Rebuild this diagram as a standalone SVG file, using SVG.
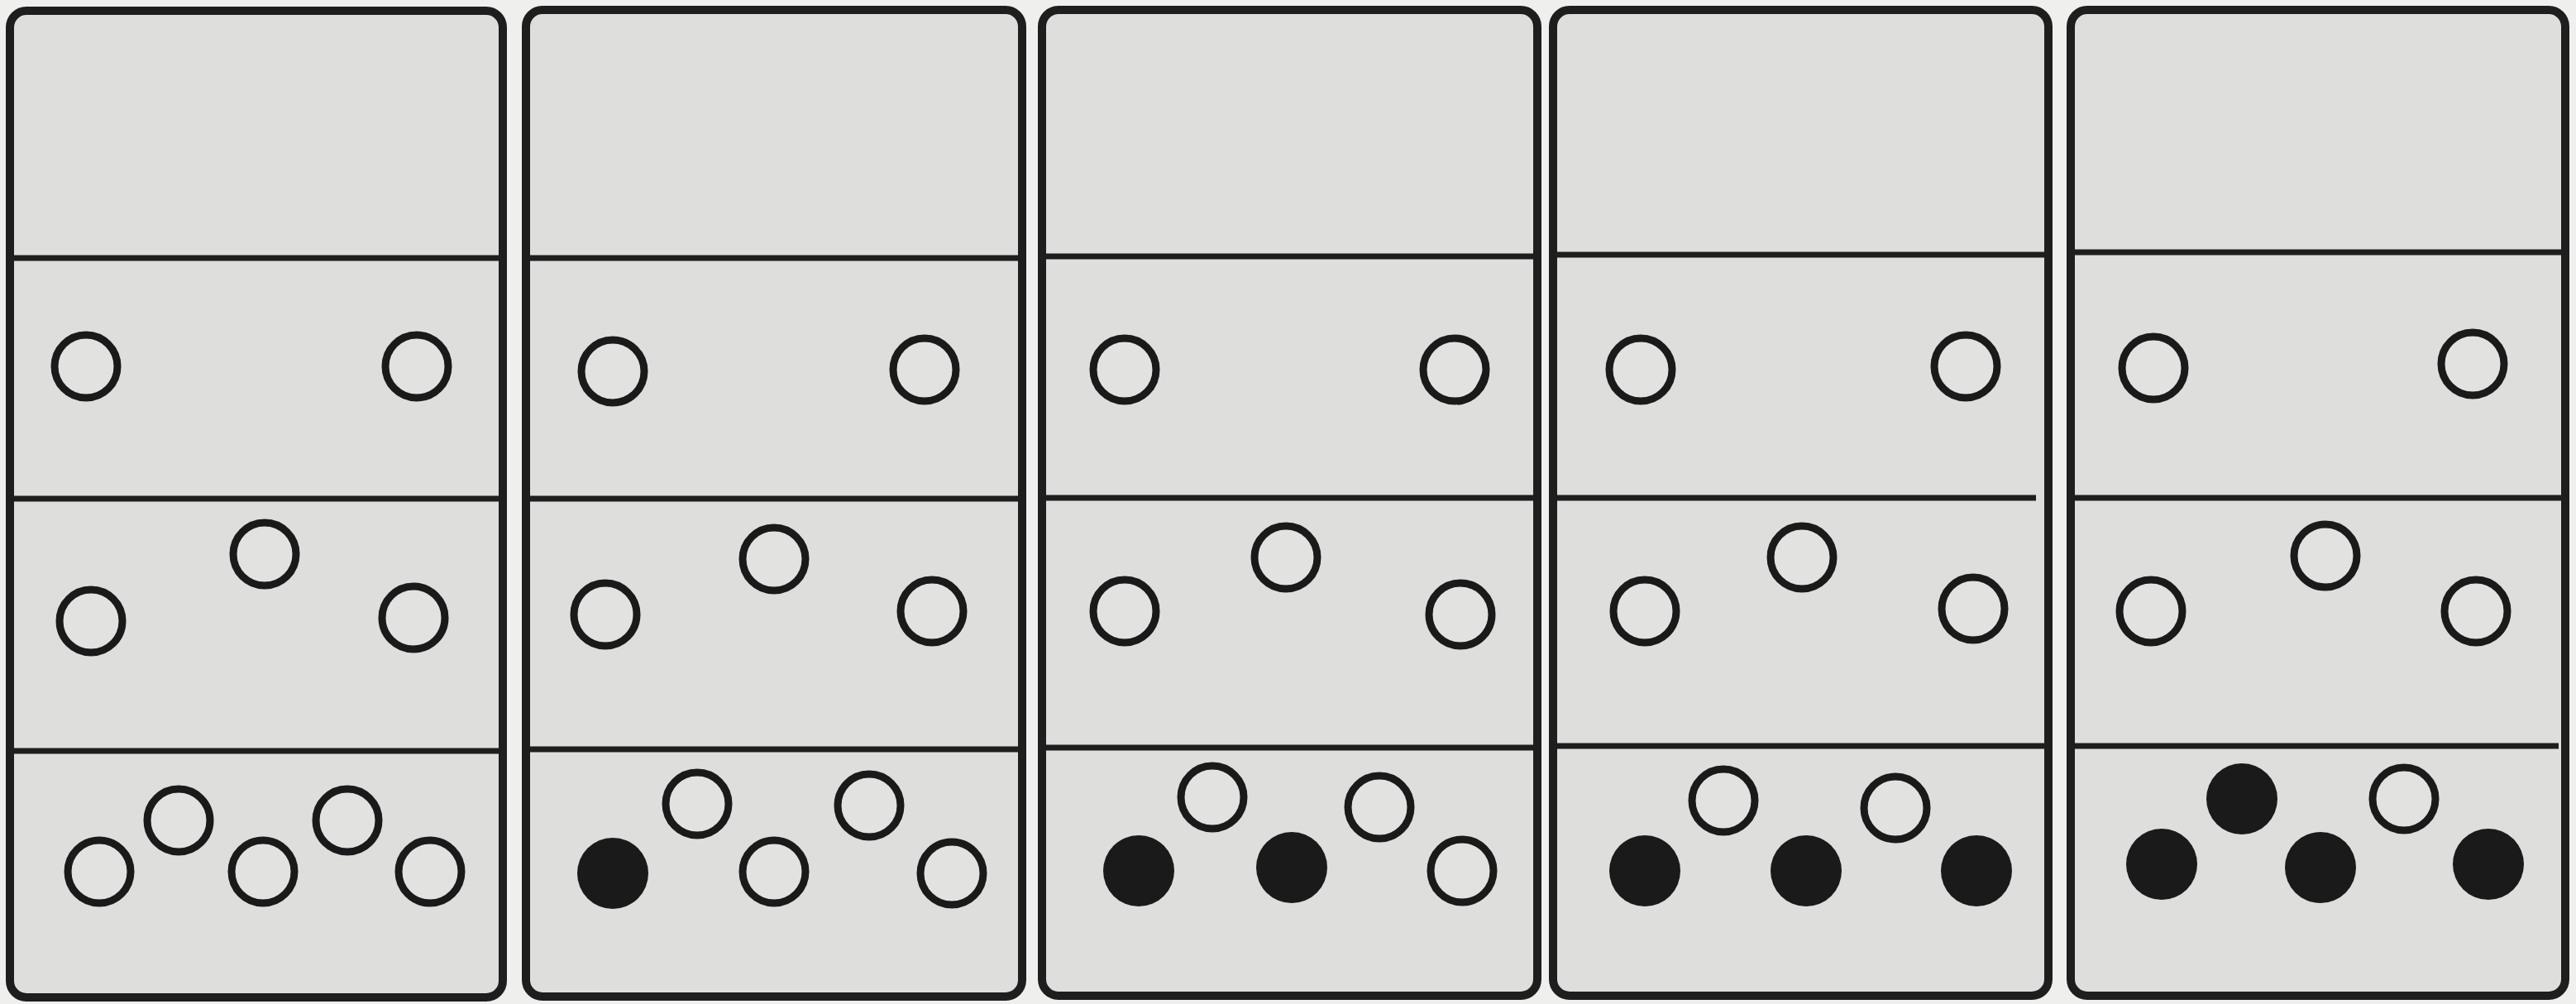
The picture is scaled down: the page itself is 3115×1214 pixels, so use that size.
<svg xmlns="http://www.w3.org/2000/svg" width="3115" height="1214" viewBox="0 0 3115 1214">
<style>
.bg{fill:#efefed}
.panel{fill:#dededc;stroke:#1e1e1e;stroke-width:10}
.div{stroke:#1e1e1e;stroke-width:7;fill:none}
.o{fill:#e2e2e0;stroke:#1a1a1a;stroke-width:9}
.f{fill:#1a1a1a}
</style>
<rect class="bg" x="0" y="0" width="3115" height="1214"/>
<g id="panel1">
<rect class="panel" x="12" y="13" width="596" height="1193" rx="20"/>
<line class="div" x1="14" y1="312" x2="606" y2="312"/>
<line class="div" x1="14" y1="603" x2="606" y2="603"/>
<line class="div" x1="14" y1="908" x2="606" y2="908"/>
<circle class="o" cx="104" cy="443" r="38"/>
<circle class="o" cx="504" cy="443" r="38"/>
<circle class="o" cx="320" cy="670" r="38"/>
<circle class="o" cx="110" cy="751" r="38"/>
<circle class="o" cx="500" cy="747" r="38"/>
<circle class="o" cx="216" cy="992" r="38"/>
<circle class="o" cx="420" cy="992" r="38"/>
<circle class="o" cx="120" cy="1054" r="38"/>
<circle class="o" cx="318" cy="1054" r="38"/>
<circle class="o" cx="520" cy="1054" r="38"/>
</g>
<g id="panel2">
<rect class="panel" x="636" y="12" width="600" height="1193" rx="20"/>
<line class="div" x1="638" y1="312" x2="1234" y2="312"/>
<line class="div" x1="638" y1="603" x2="1234" y2="603"/>
<line class="div" x1="638" y1="906" x2="1234" y2="906"/>
<circle class="o" cx="741" cy="449" r="38"/>
<circle class="o" cx="1118" cy="447" r="38"/>
<circle class="o" cx="936" cy="676" r="38"/>
<circle class="o" cx="732" cy="743" r="38"/>
<circle class="o" cx="1127" cy="739" r="38"/>
<circle class="o" cx="843" cy="972" r="38"/>
<circle class="o" cx="1051" cy="974" r="38"/>
<circle class="f" cx="741" cy="1056" r="43"/>
<circle class="o" cx="936" cy="1054" r="38"/>
<circle class="o" cx="1151" cy="1056" r="38"/>
</g>
<g id="panel3">
<rect class="panel" x="1260" y="12" width="599" height="1192" rx="20"/>
<line class="div" x1="1262" y1="310" x2="1857" y2="310"/>
<line class="div" x1="1262" y1="602" x2="1857" y2="602"/>
<line class="div" x1="1262" y1="904" x2="1857" y2="904"/>
<circle class="o" cx="1360" cy="447" r="38"/>
<circle class="o" cx="1759" cy="447" r="38"/>
<path class="f" d="M1801,450 A43,43 0 0 1 1762,490 Q1790,472 1795,438 Z"/>
<circle class="o" cx="1555" cy="674" r="38"/>
<circle class="o" cx="1360" cy="739" r="38"/>
<circle class="o" cx="1766" cy="743" r="38"/>
<circle class="o" cx="1466" cy="964" r="38"/>
<circle class="o" cx="1668" cy="976" r="38"/>
<circle class="f" cx="1377" cy="1053" r="43"/>
<circle class="f" cx="1562" cy="1049" r="43"/>
<circle class="o" cx="1768" cy="1053" r="38"/>
</g>
<g id="panel4">
<rect class="panel" x="1878" y="12" width="599" height="1192" rx="20"/>
<line class="div" x1="1880" y1="308" x2="2475" y2="308"/>
<line class="div" x1="1880" y1="602" x2="2462" y2="602"/>
<line class="div" x1="1880" y1="902" x2="2475" y2="902"/>
<circle class="o" cx="1984" cy="447" r="38"/>
<circle class="o" cx="2377" cy="443" r="38"/>
<circle class="o" cx="2179" cy="674" r="38"/>
<circle class="o" cx="1989" cy="739" r="38"/>
<circle class="o" cx="2386" cy="736" r="38"/>
<circle class="o" cx="2084" cy="968" r="38"/>
<circle class="o" cx="2292" cy="977" r="38"/>
<circle class="f" cx="1989" cy="1053" r="43"/>
<circle class="f" cx="2184" cy="1053" r="43"/>
<circle class="f" cx="2390" cy="1053" r="43"/>
</g>
<g id="panel5">
<rect class="panel" x="2504" y="12" width="598" height="1192" rx="20"/>
<line class="div" x1="2506" y1="305" x2="3100" y2="305"/>
<line class="div" x1="2506" y1="602" x2="3100" y2="602"/>
<line class="div" x1="2506" y1="902" x2="3094" y2="902"/>
<circle class="o" cx="2604" cy="445" r="38"/>
<circle class="o" cx="2990" cy="440" r="38"/>
<circle class="o" cx="2812" cy="672" r="38"/>
<circle class="o" cx="2601" cy="739" r="38"/>
<circle class="o" cx="2994" cy="739" r="38"/>
<circle class="f" cx="2711" cy="966" r="43"/>
<circle class="o" cx="2907" cy="966" r="38"/>
<circle class="f" cx="2614" cy="1045" r="43"/>
<circle class="f" cx="2806" cy="1049" r="43"/>
<circle class="f" cx="3009" cy="1045" r="43"/>
</g>
</svg>
